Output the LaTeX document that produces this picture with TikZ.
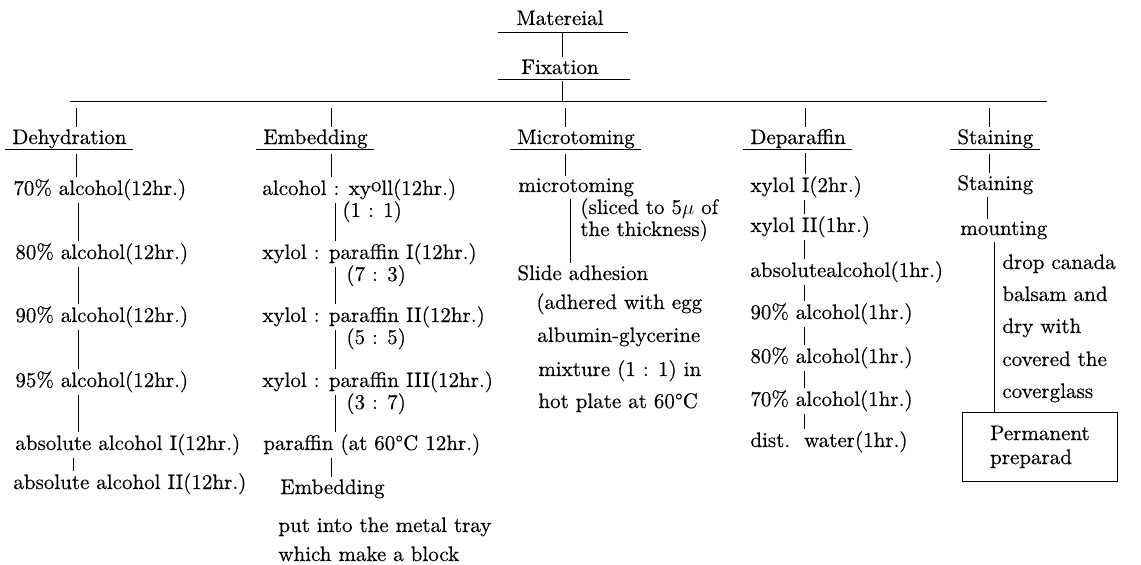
\documentclass[tikz,border=0pt]{standalone}
\usepackage{fontspec}
\setmainfont{lmroman10-regular.otf}[FakeBold=0.4]
\newcommand\fsz{\fontsize{21}{24}\selectfont}
\begin{document}
\begin{tikzpicture}[x=1pt,y=-1pt,line width=0.8pt,
  txt/.style={anchor=base west,inner sep=0pt,font=\fsz},
  hdr/.style={anchor=base west,inner sep=0pt,font=\fsz},
  ctr/.style={anchor=base,inner sep=0pt,font=\fsz},
  conn/.style={line width=0.8pt,shorten >=2pt,shorten <=2pt},
  uline/.style={line width=0.8pt}]
\useasboundingbox (0,0) rectangle (1141,565);
% top
\node[ctr] (mat) at (560,25) {Matereial};
\node[ctr] (fix) at (560,74) {Fixation};
\draw[uline] (498,32) -- (628,32);
\draw[uline] (498,79) -- (630,79);
\coordinate (cx) at (562,0);
\draw[conn] (mat.south -| cx) ++(0,5) -- (fix.north -| cx);
\coordinate (hl) at (70,101);
\coordinate (hr) at (1047,101);
\draw[uline] (hl) -- (hr);
\draw[uline] (fix.south -| cx) ++(0,6) -- (hl -| cx);
% headers
\node[hdr] (hD) at (12,144) {Dehydration};
\node[hdr] (hE) at (263,144) {Embedding};
\node[hdr] (hM) at (517,144) {Microtoming};
\node[hdr] (hP) at (750,144) {Deparaffin};
\node[hdr] (hS) at (957,144) {Staining};
\foreach \h in {hD,hE,hM,hP,hS}{
  \draw[uline] ([xshift=-7pt,yshift=-5pt]\h.base west) -- ([xshift=6pt,yshift=-5pt]\h.base east);
}
\coordinate (xD) at (76,0);
\coordinate (xE) at (331,0);
\coordinate (xM) at (565,0);
\coordinate (xP) at (805,0);
\coordinate (xS) at (989,0);
\foreach \h/\x in {hD/xD,hE/xE,hM/xM,hP/xP,hS/xS}{
  \draw[conn,shorten <=0pt] (hl -| \x) ++(0,7) -- (\h.north -| \x);
}
% Dehydration column
\node[txt] (d1) at (13,195) {70\% alcohol(12hr.)};
\node[txt] (d2) at (15,259) {80\% alcohol(12hr.)};
\node[txt] (d3) at (15,322) {90\% alcohol(12hr.)};
\node[txt] (d4) at (15,387) {95\% alcohol(12hr.)};
\node[txt] (d5) at (15,450) {absolute alcohol I(12hr.)};
\node[txt] (d6) at (13,489) {absolute alcohol II(12hr.)};
\coordinate (xd) at (78,0);
\coordinate (xd2) at (73,0);
\draw[conn,shorten <=5pt] (hD.south -| xD) -- (d1.north -| xD);
\draw[conn] (d1.south -| xd) -- (d2.north -| xd);
\draw[conn] (d2.south -| xd) -- (d3.north -| xd);
\draw[conn] (d3.south -| xd) -- (d4.north -| xd);
\draw[conn] (d4.south -| xd) -- (d5.north -| xd);
\draw[conn] (d5.south -| xd2) -- (d6.north -| xd2);
% Embedding column
\node[txt] (e1) at (262,195) {alcohol : xy\raisebox{0.4ex}{o}ll(12hr.)};
\node[txt] (r1) at (342,217) {(1 : 1)};
\node[txt] (e2) at (262,259) {xylol : paraffin I(12hr.)};
\node[txt] (r2) at (346,281) {(7 : 3)};
\node[txt] (e3) at (262,322) {xylol : paraffin II(12hr.)};
\node[txt] (r3) at (346,344) {(5 : 5)};
\node[txt] (e4) at (262,387) {xylol : paraffin III(12hr.)};
\node[txt] (r4) at (346,409) {(3 : 7)};
\node[txt] (e5) at (263,450) {paraffin (at 60°C 12hr.)};
\node[txt] (e6) at (280,494) {Embedding};
\node[txt] (e7) at (278,532) {put into the metal tray};
\node[txt] (e8) at (278,561) {which make a block};
\coordinate (xe) at (335,0);
\draw[conn,shorten <=5pt] (hE.south -| xE) -- (e1.north -| xE);
\draw[conn] (e1.south -| xe) -- (e2.north -| xe);
\draw[conn] (e2.south -| xe) -- (e3.north -| xe);
\draw[conn] (e3.south -| xe) -- (e4.north -| xe);
\draw[conn] (e4.south -| xe) -- (e5.north -| xe);
\draw[conn] (e5.south -| xE) -- (e6.north -| xE);
% Microtoming column
\node[txt] (m1) at (518,192) {microtoming};
\node[txt] (sl1) at (580,214) {(sliced to 5$\mu$ of};
\node[txt] (sl2) at (580,236) {the thickness)};
\node[txt] (m2) at (517,280) {Slide adhesion};
\node[txt] (a1) at (536,309) {(adhered with egg};
\node[txt] (a2) at (537,342) {albumin-glycerine};
\node[txt] (a3) at (538,376) {mixture (1 : 1) in};
\node[txt] (a4) at (538,408) {hot plate at 60°C};
\coordinate (xm) at (570,0);
\draw[conn,shorten <=5pt] (hM.south -| xM) -- (m1.north -| xM);
\draw[conn] (m1.south -| xm) -- (m2.north -| xm);
% Deparaffin column
\node[txt] (p1) at (750,192) {xylol I(2hr.)};
\node[txt] (p2) at (750,232) {xylol II(1hr.)};
\node[txt] (p3) at (750,277) {absolutealcohol(1hr.)};
\node[txt] (p4) at (750,319) {90\% alcohol(1hr.)};
\node[txt] (p5) at (750,363) {80\% alcohol(1hr.)};
\node[txt] (p6) at (750,406) {70\% alcohol(1hr.)};
\node[txt] (p7) at (750,447) {dist.\ \ water(1hr.)};
\coordinate (xp) at (804,0);
\draw[conn,shorten <=5pt] (hP.south -| xP) -- (p1.north -| xP);
\draw[conn] (p1.south -| xp) -- (p2.north -| xp);
\draw[conn] (p2.south -| xp) -- (p3.north -| xp);
\draw[conn] (p3.south -| xp) -- (p4.north -| xp);
\draw[conn] (p4.south -| xp) -- (p5.north -| xp);
\draw[conn] (p5.south -| xp) -- (p6.north -| xp);
\draw[conn] (p6.south -| xp) -- (p7.north -| xp);
% Staining column
\node[txt] (s1) at (957,190) {Staining};
\node[txt] (s2) at (960,235) {mounting};
\node[txt] (c1) at (1002,269) {drop canada};
\node[txt] (c2) at (1002,301) {balsam and};
\node[txt] (c3) at (1002,333) {dry with};
\node[txt] (c4) at (1002,366) {covered the};
\node[txt] (c5) at (1002,398) {coverglass};
\node[draw,line width=0.8pt,anchor=north west,minimum width=155pt,minimum height=69pt,
      inner sep=0pt,font=\fsz,align=left] (perm) at (962,412) {Permanent\\preparad};
\coordinate (xs) at (987,0);
\coordinate (xs2) at (994,0);
\draw[conn,shorten <=5pt] (hS.south -| xS) -- (s1.north -| xS);
\draw[conn] (s1.south -| xs) -- (s2.north -| xs);
\draw[conn,shorten >=0pt] (s2.south -| xs2) -- (perm.north -| xs2);
\end{tikzpicture}
\end{document}
